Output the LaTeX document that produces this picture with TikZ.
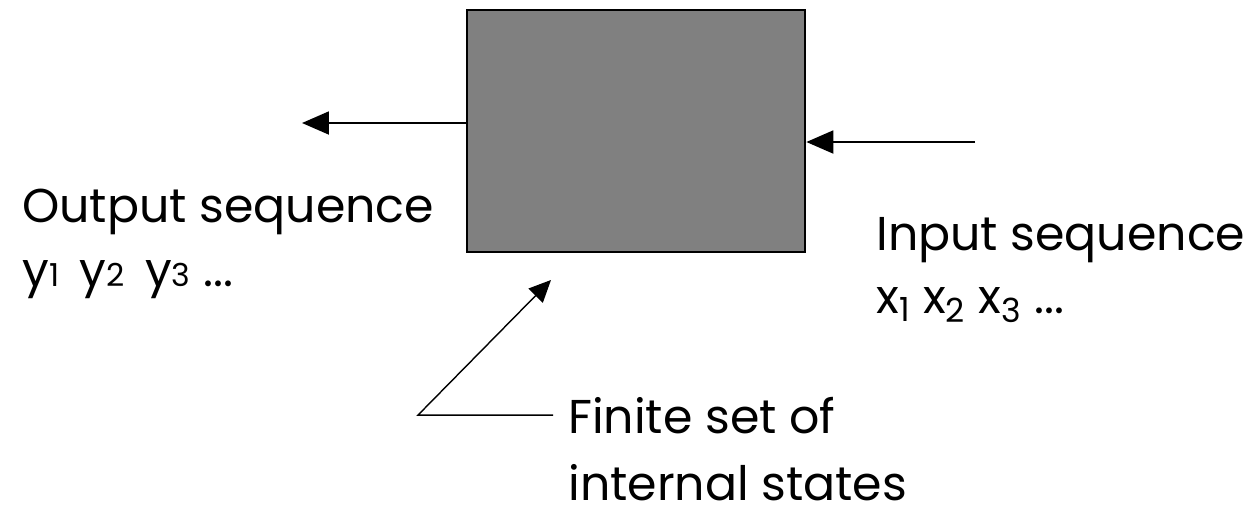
\documentclass[tikz,border=0pt]{standalone}
\usepackage{fontspec}
\setmainfont{Poppins}
\usetikzlibrary{arrows.meta,positioning}
\tikzset{
  sigarr/.style={-{Triangle[length=5.4mm,width=4.6mm]}, line width=1.1pt},
  pointarr/.style={-{Triangle[length=4.4mm,width=4mm]}, line width=0.8pt},
  lbl/.style={anchor=base west, inner sep=0pt, font=\fontsize{27}{32}\selectfont},
}
\newcommand{\sm}[1]{{\fontsize{18}{20}\selectfont #1}}

\begin{document}
\begin{tikzpicture}[x=0.02cm, y=-0.02cm]
  \useasboundingbox (0,0) rectangle (1258,515);

  % the machine
  \node[draw, line width=1.6pt, fill=black!50, minimum width=6.76cm, minimum height=4.84cm,
        inner sep=0pt] (fsm) at (636,131) {};

  % free ends of the connectors
  \coordinate (outEnd) at (302,123);
  \coordinate (inStart) at (975,142);
  \coordinate (bend) at (418,413);
  \coordinate (stateTip) at (551,280);

  % labels
  \node[lbl] (outlbl) at (22,222) {Output sequence};
  \node[lbl] (outseq) at (22,286) {y\sm{1}\, y\sm{2}\, y\sm{3} ...};
  \node[lbl] (inlbl) at (876,250) {Input sequence};
  \node[lbl] (inseq) at (876,313) {x\textsubscript{1} x\textsubscript{2} x\textsubscript{3} ...};
  \node[lbl] (fin) at (568,433) {Finite set of};
  \node[lbl] (intl) at (568,500) {internal states};

  \draw[sigarr] (fsm.west |- outEnd) -- (outEnd);
  \draw[sigarr] (inStart) -- (fsm.east |- inStart);
  \draw[pointarr, shorten <=0.3cm] (fin.west) -- (fin.west -| bend) -- (stateTip);

\end{tikzpicture}
\end{document}
